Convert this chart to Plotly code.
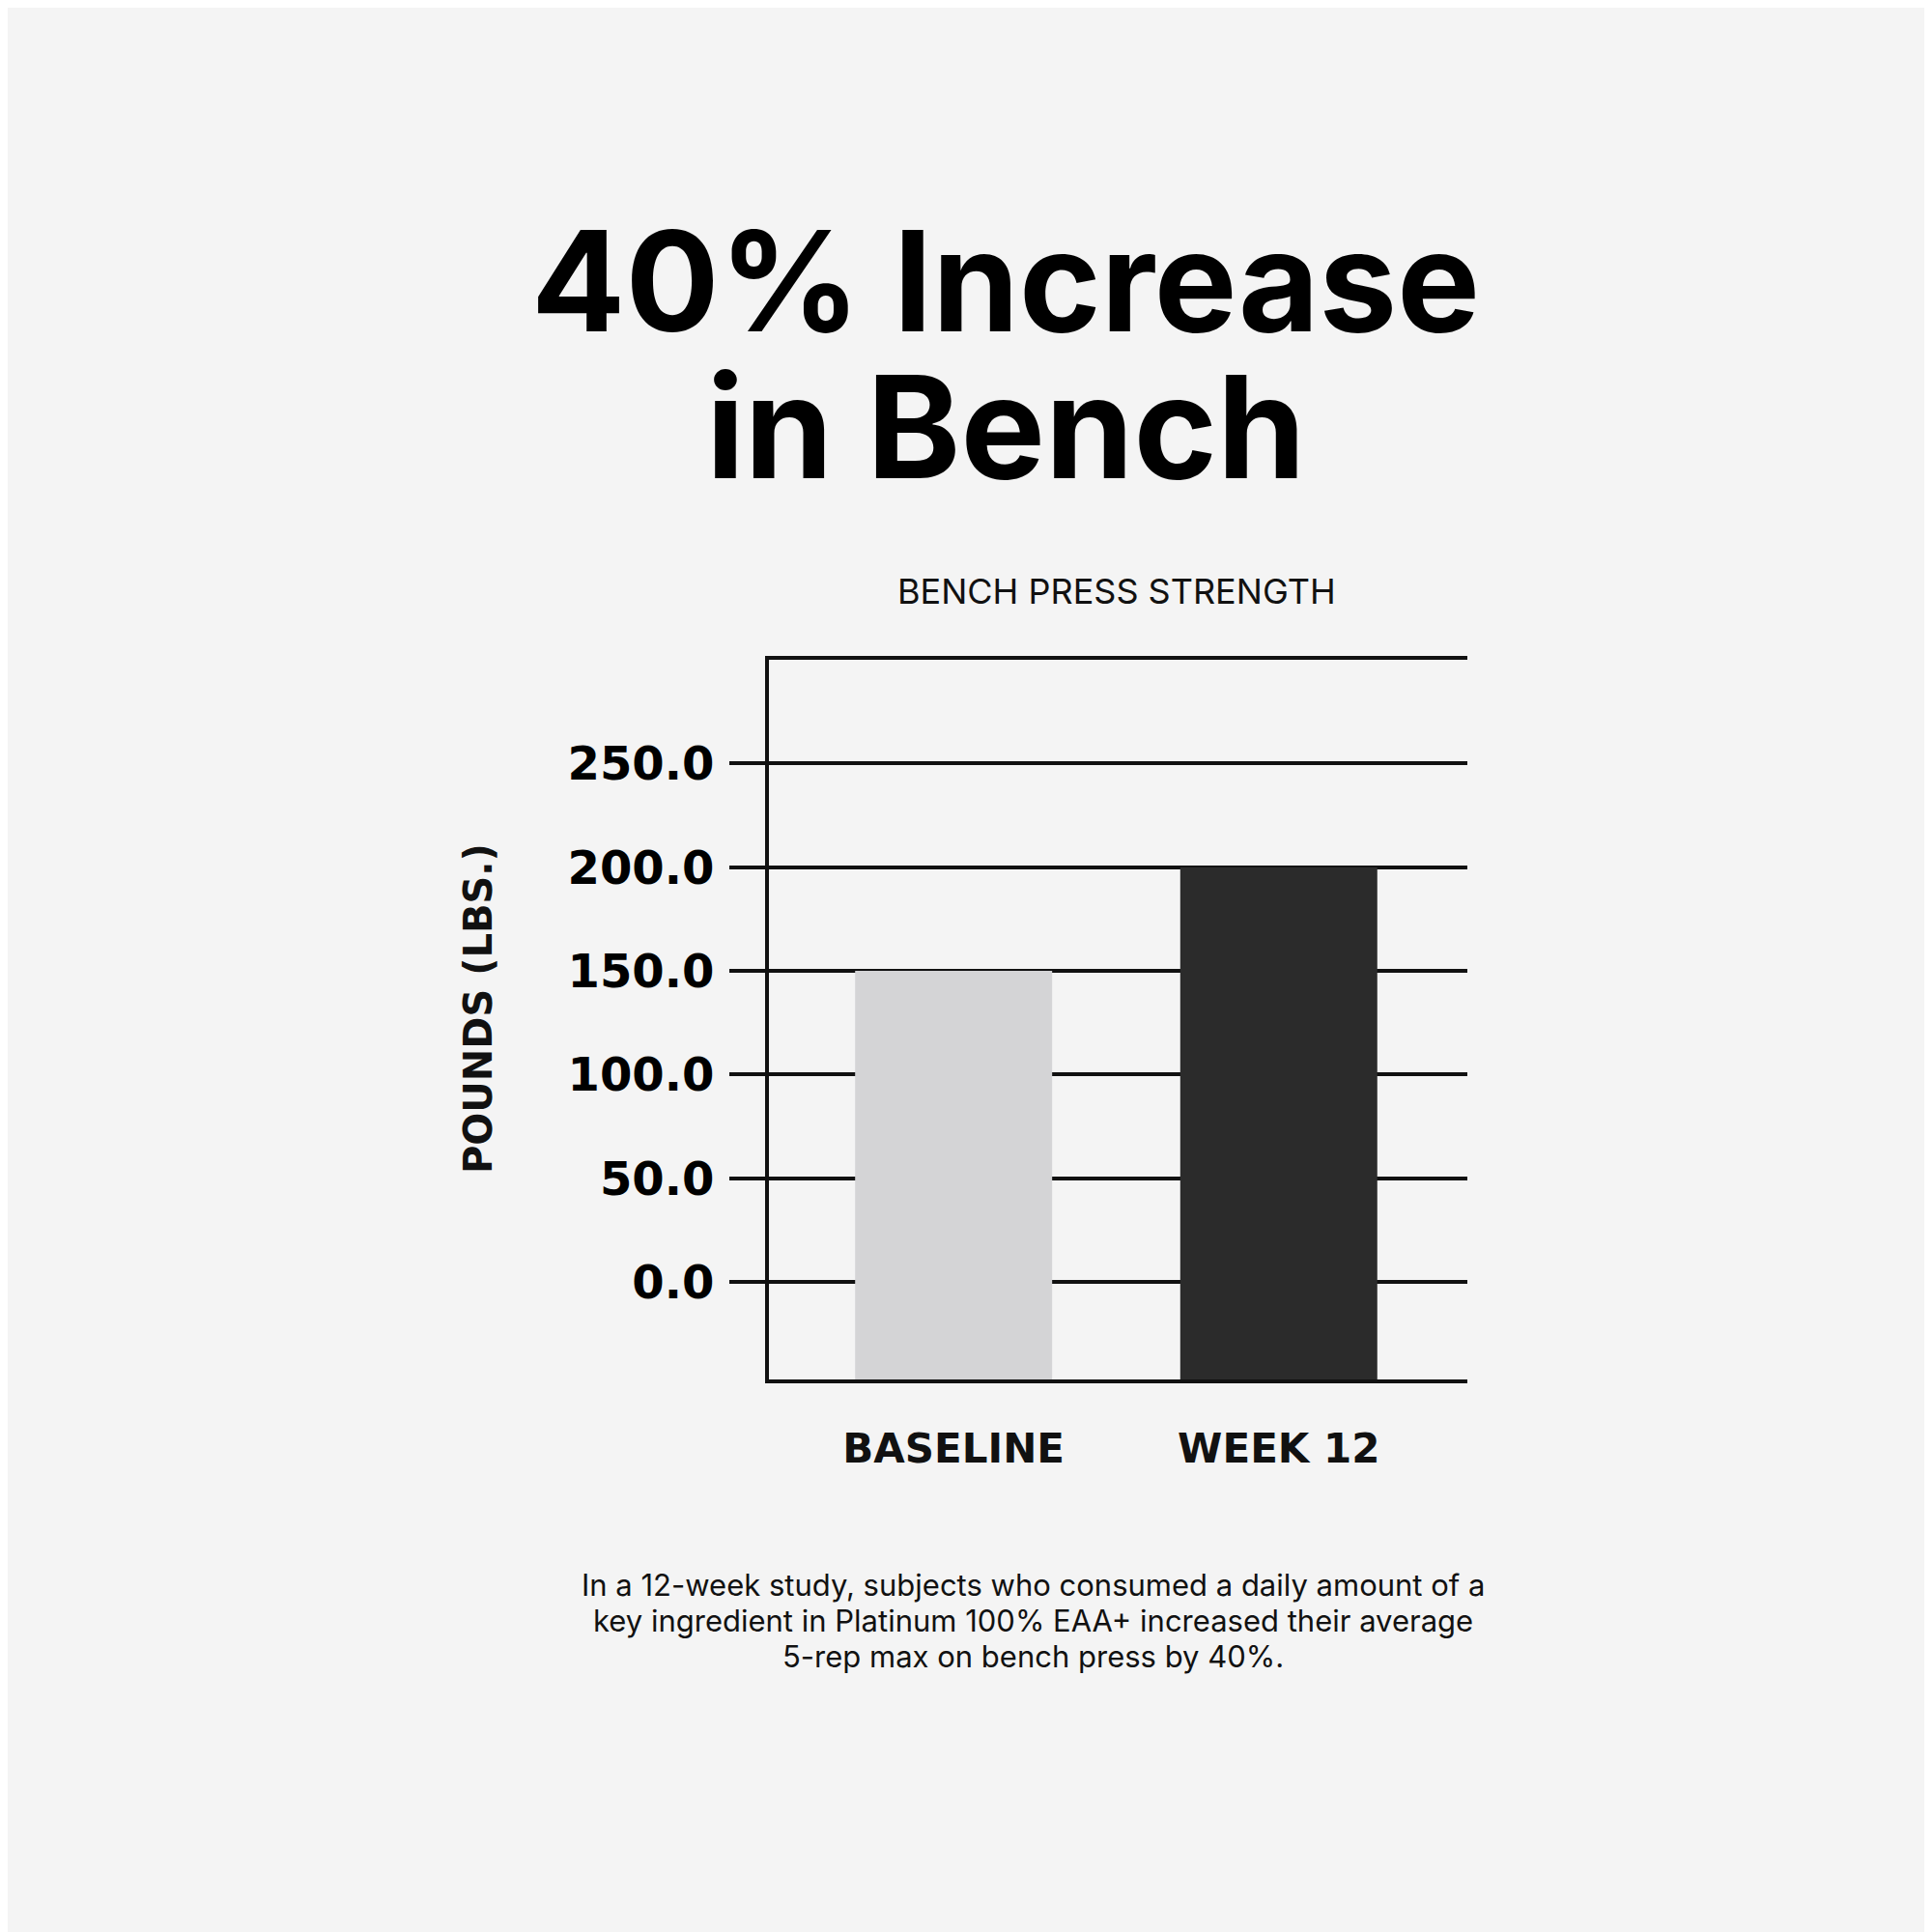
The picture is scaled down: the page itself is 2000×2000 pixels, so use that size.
import plotly.graph_objects as go

# bench press 5-rep max, pounds
categories = ["BASELINE", "WEEK 12"]
pounds = [150.0, 200.0]
bar_colors = ["#d4d4d6", "#2b2b2b"]
tick_values = [0, 50, 100, 150, 200, 250]
tick_labels = ["0.0", "50.0", "100.0", "150.0", "200.0", "250.0"]
title_lines = ["40% Increase", "in Bench"]
note_lines = [
    "In a 12-week study, subjects who consumed a daily amount of a",
    "key ingredient in Platinum 100% EAA+ increased their average",
    "5-rep max on bench press by 40%.",
]

y_min, y_max = -47, 300

bg = "#f4f4f4"
ink = "#111111"
font_main = "Inter"
font_bold = "DejaVu Sans"
W = H = 2000
off = 7  # page margin shift


def px(x):
    return (x - off) / W


def py(y):
    return 1 - (y - off) / H


fig = go.Figure()
# bars start at the bottom of the plot, below zero
fig.add_trace(go.Bar(
    x=categories,
    y=[p - y_min for p in pounds],
    base=y_min,
    marker=dict(color=bar_colors, line=dict(width=0)),
    width=0.606,
    hoverinfo="skip",
))

fig.update_layout(
    width=W, height=H,
    paper_bgcolor=bg, plot_bgcolor=bg,
    margin=dict(l=0, r=0, t=0, b=0),
    showlegend=False,
    font=dict(family=font_main, color=ink),
    xaxis=dict(
        domain=[px(795), px(1518)],
        range=[-0.568, 1.58],
        showline=True, linecolor=ink, linewidth=4, mirror=True,
        showgrid=False, ticks="",
        tickfont=dict(family=font_bold, size=42, weight="bold", color=ink),
        ticklabelstandoff=32,
    ),
    yaxis=dict(
        domain=[py(1427), py(682)],
        range=[y_min, y_max],
        tickvals=tick_values, ticktext=tick_labels,
        showline=True, linecolor=ink, linewidth=4,
        showgrid=True, gridcolor=ink, gridwidth=4,
        zeroline=False,
        ticks="outside", ticklen=37, tickwidth=4, tickcolor=ink,
        tickfont=dict(family=font_bold, size=48, weight="bold", color="#000000"),
        ticklabelstandoff=6,
    ),
)

# headline
for line, yc, sz in zip(title_lines, [290, 441], [144, 147]):
    fig.add_annotation(
        text=line, x=px(1040), y=py(yc), xref="paper", yref="paper",
        xanchor="center", yanchor="middle", showarrow=False,
        font=dict(family=font_main, size=sz, weight="bold", color="#000000"),
    )

fig.add_annotation(
    text="BENCH PRESS STRENGTH", x=px(1155), y=py(611), xref="paper", yref="paper",
    xanchor="center", yanchor="middle", showarrow=False,
    font=dict(family=font_main, size=36, color=ink),
)

fig.add_annotation(
    text="POUNDS (LBS.)", x=px(494), y=py(1043), xref="paper", yref="paper",
    xanchor="center", yanchor="middle", showarrow=False, textangle=-90,
    font=dict(family=font_bold, size=40, weight="bold", color=ink),
)

for line, yc in zip(note_lines, [1639, 1676, 1713]):
    fig.add_annotation(
        text=line, x=px(1068), y=py(yc), xref="paper", yref="paper",
        xanchor="center", yanchor="middle", showarrow=False,
        font=dict(family=font_main, size=31, color=ink),
    )

fig.write_html("out.html")
